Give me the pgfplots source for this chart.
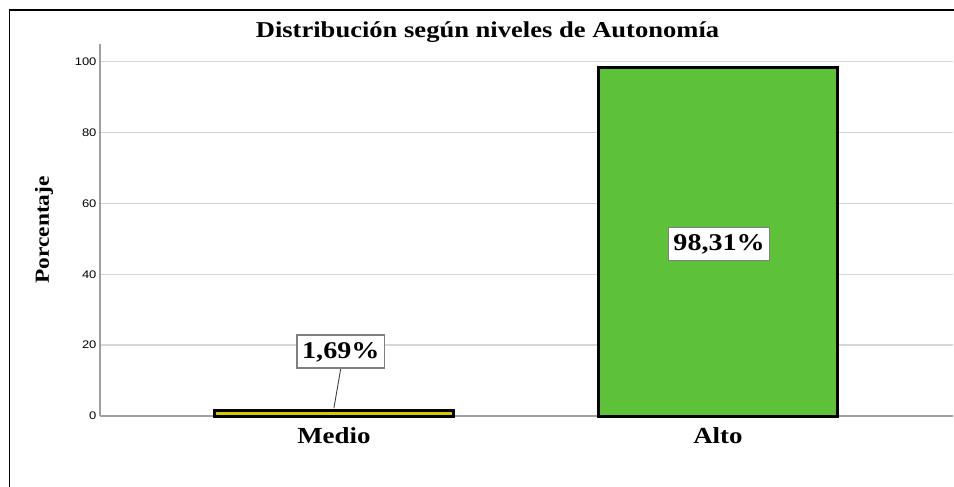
\documentclass[border=0pt]{standalone}
\usepackage{pgfplots}
\pgfplotsset{compat=1.18}
\usepackage{fontspec}
\setmainfont[FakeStretch=1.17]{Liberation Serif}
\newfontfamily\arialfont[FakeStretch=1.18]{Liberation Sans}
\definecolor{barY}{RGB}{215,200,0}
\definecolor{barG}{RGB}{94,193,58}
\definecolor{gridc}{RGB}{214,214,214}
\definecolor{spine}{RGB}{160,160,160}
\begin{document}
\begin{tikzpicture}[x=1pt,y=1pt]
\path[use as bounding box] (0,0) rectangle (954,-487);
\draw[line width=1.8pt] (9.5,-487) -- (9.5,-10.2) -- (954,-10.2);
\node[font=\fontsize{22.7}{23}\selectfont\bfseries, anchor=base] at (487.5,-38) {Distribución según niveles de Autonomía};
\node[font=\fontsize{20}{20}\selectfont\bfseries, rotate=90] at (44,-230) {Porcentaje};
\begin{axis}[
  at={(100pt,-416pt)}, anchor=south west,
  width=853pt, height=372pt, scale only axis,
  xmin=-0.609, xmax=1.612, ymin=0, ymax=105,
  axis x line*=bottom, axis y line*=left,
  axis line style={spine, line width=1.6pt, -},
  ytick={0,20,...,100}, ymajorgrids,
  grid style={gridc, line width=1.3pt},
  major tick length=0pt,
  xtick={0,1}, xticklabels={Medio,Alto},
  xticklabel style={font=\fontsize{23}{23}\selectfont\bfseries, yshift=-8pt},
  yticklabel style={font=\fontsize{11}{11}\selectfont\arialfont},
  /pgf/number format/assume math mode=true,
  bar shift=0pt, bar width=0.622,
  clip=false,
  ]
\addplot[ybar, fill=barY, draw=black, line width=3pt] coordinates {(0,1.69)};
\addplot[ybar, fill=barG, draw=black, line width=3pt] coordinates {(1,98.31)};
\draw[black!75, line width=0.9pt] (axis cs:0,2.2) -- (axis cs:0.018,13.5);
\node[draw=gray, line width=1.4pt, fill=white, font=\fontsize{24}{24}\selectfont\bfseries, inner xsep=5pt, inner ysep=6pt, text height=17pt, text depth=4pt] at (axis cs:0.018,18.2) {1,69\%};
\node[draw=gray, line width=1.4pt, fill=white, font=\fontsize{24}{24}\selectfont\bfseries, inner xsep=5pt, inner ysep=6pt, text height=17pt, text depth=4pt] at (axis cs:1.003,48.5) {98,31\%};
\end{axis}
\end{tikzpicture}
\end{document}
